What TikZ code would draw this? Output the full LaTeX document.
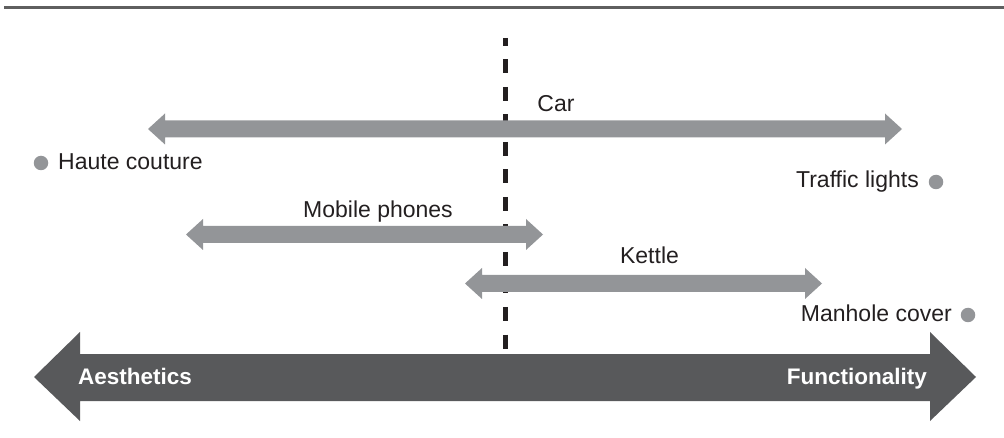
\documentclass[tikz,border=0pt]{standalone}
\usepackage{fontspec}
\setmainfont{Liberation Sans}
\definecolor{darkbar}{HTML}{58595B}
\definecolor{lightbar}{HTML}{939598}
\definecolor{ink}{HTML}{231F20}
\definecolor{rulegray}{HTML}{5F5F5F}
\tikzset{
  label/.style={inner sep=0pt, text=ink, font=\fontsize{23}{27}\selectfont},
  axislabel/.style={inner sep=0pt, text=white, font=\fontsize{22.5}{27}\selectfont\bfseries},
  dot/.style={circle, fill=lightbar, inner sep=0pt, minimum size=14.5pt},
  divider/.style={ink, line width=5pt, dash pattern=on 14pt off 13.5pt, dash phase=6pt},
  rangebar/.style={fill=lightbar},
  axisbar/.style={fill=darkbar}
}
% two-headed range arrow: left tip x, right tip x, centre y
\newcommand\rangearrow[3]{%
  \fill[rangebar] (#1,#3) -- (#1+17,#3-15.5) -- (#1+17,#3-8.5) -- (#2-17,#3-8.5)
    -- (#2-17,#3-15.5) -- (#2,#3) -- (#2-17,#3+15.5) -- (#2-17,#3+8.5)
    -- (#1+17,#3+8.5) -- (#1+17,#3+15.5) -- cycle;}
\begin{document}
\begin{tikzpicture}[x=1pt, y=-1pt]
\useasboundingbox (0,0) rectangle (1004,438);

% top rule
\draw[rulegray, line width=2.3pt] (4,7.5) -- (1004,7.5);

% dividing line between the two poles
\coordinate (divtop) at (505,38);
\coordinate (divbot) at (505,354);
\draw[divider] (divtop) -- (divbot);

% ranges
\rangearrow{148}{902}{129}
\rangearrow{186}{543}{234.5}
\rangearrow{465}{822}{283.5}

% main axis arrow
\fill[axisbar] (34,377) -- (80,332) -- (80,354) -- (930,354) -- (930,332)
  -- (976,377) -- (930,421) -- (930,401) -- (80,401) -- (80,421) -- cycle;

% range labels
\node[label, anchor=base] (car) at (556,112) {Car};
\node[label, anchor=base] (mobile) at (378,218) {Mobile phones};
\node[label, anchor=base] (kettle) at (649.5,264) {Kettle};

% end points
\node[dot] (hautedot) at (41,163) {};
\node[label, anchor=base west] (haute) at (58,170) {Haute couture};
\node[dot] (trafficdot) at (936,182) {};
\node[label, anchor=base east] (traffic) at (919,188) {Traffic lights};
\node[dot] (manholedot) at (968,315) {};
\node[label, anchor=base east] (manhole) at (952,322) {Manhole cover};

% axis labels
\node[axislabel, anchor=base west] (aes) at (78,384) {Aesthetics};
\node[axislabel, anchor=base east] (fun) at (927,384) {Functionality};
\end{tikzpicture}
\end{document}
